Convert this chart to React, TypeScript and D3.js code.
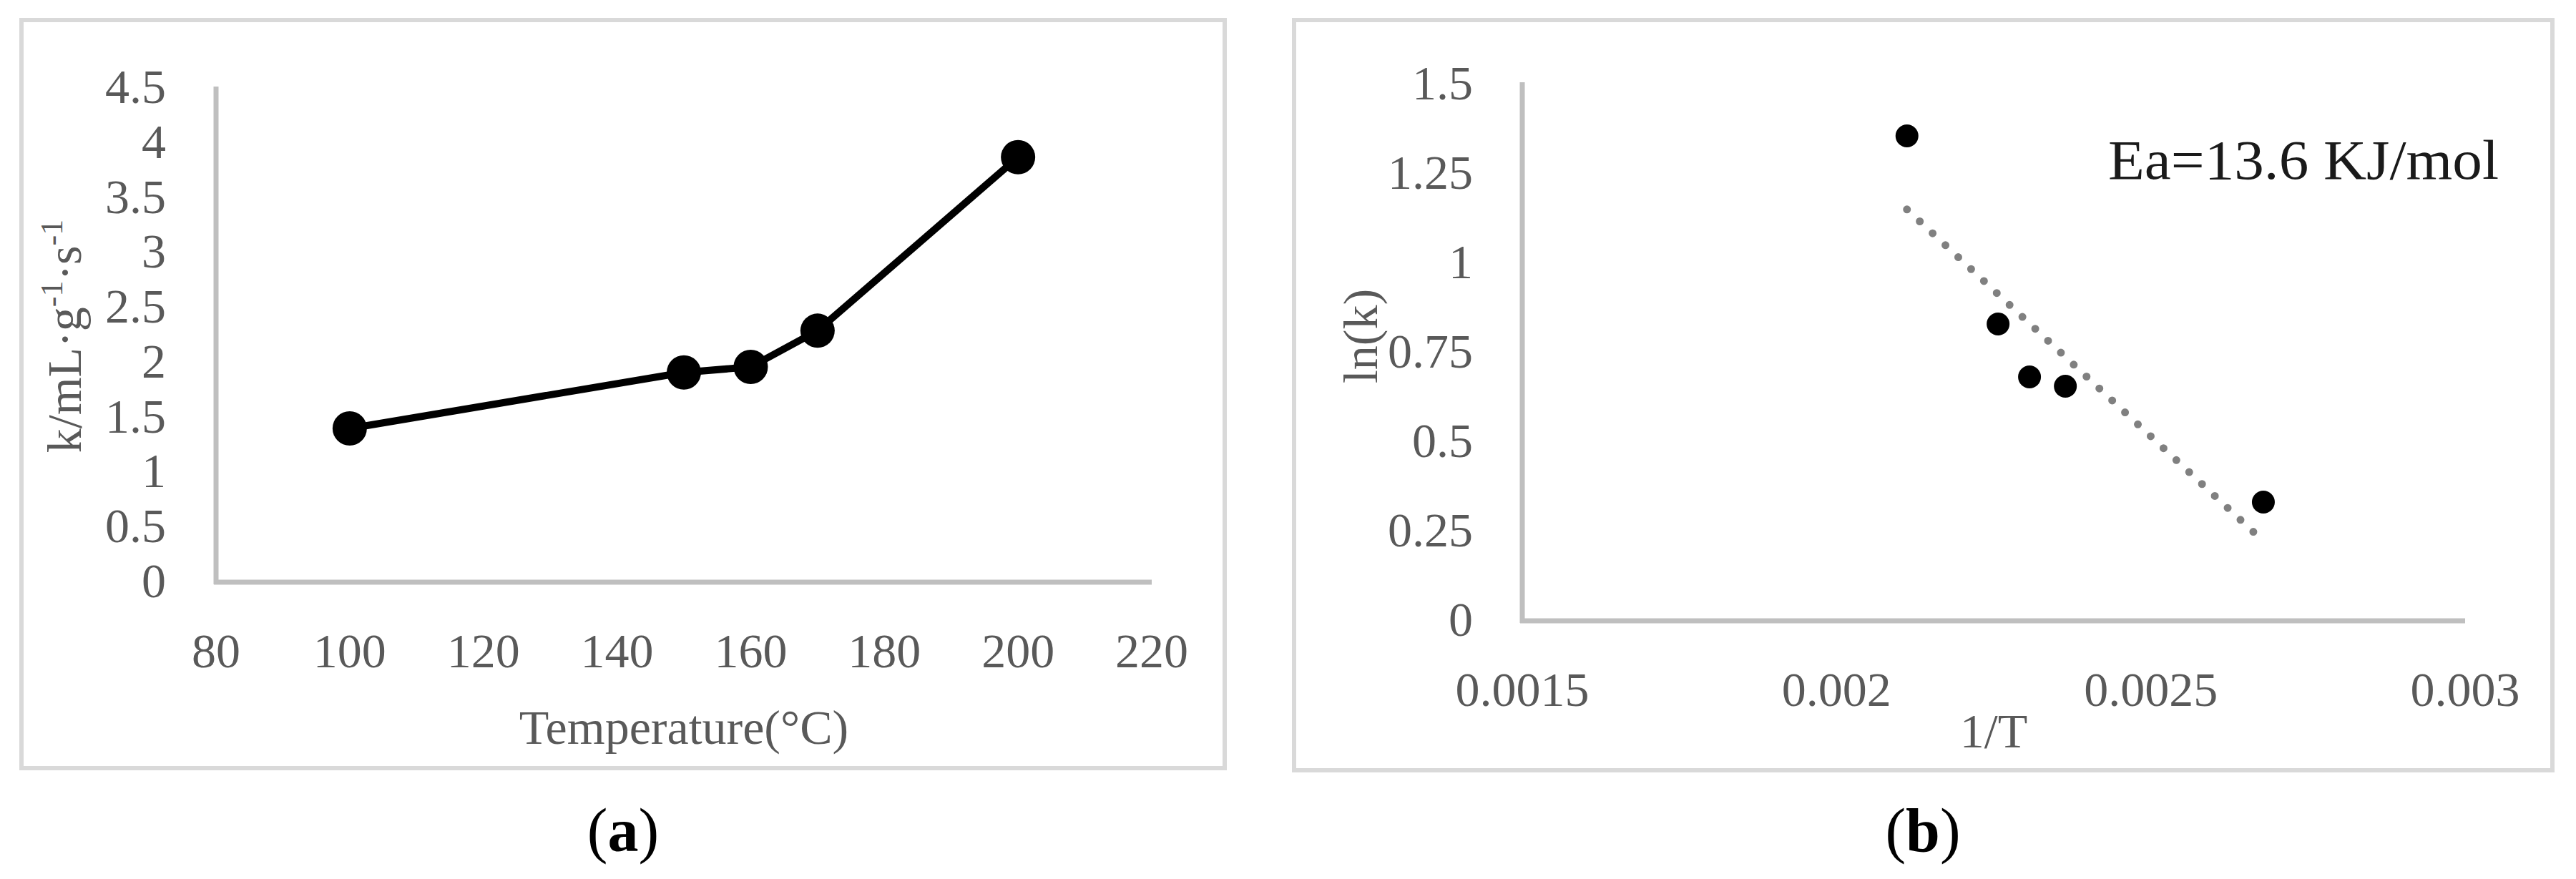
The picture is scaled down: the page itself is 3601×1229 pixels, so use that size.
import React from 'react';
import * as d3 from 'd3';

// panel (a): rate constant vs temperature
const temperature = [100, 150, 160, 170, 200];
const rateK = [1.4, 1.91, 1.96, 2.29, 3.87];
const tempTicks = [80, 100, 120, 140, 160, 180, 200, 220];
const kTicks = [0, 0.5, 1, 1.5, 2, 2.5, 3, 3.5, 4, 4.5];

// panel (b): Arrhenius plot
const invT = [0.002112, 0.002257, 0.002307, 0.002364, 0.002679];
const lnK = [1.356, 0.83, 0.682, 0.656, 0.332];
const invTTicks = [0.0015, 0.002, 0.0025, 0.003];
const lnKTicks = [0, 0.25, 0.5, 0.75, 1, 1.25, 1.5];

const W = 3601;
const H = 1229;
const FONT = '"Liberation Serif", "Times New Roman", serif';
const TXT = '#595959';
const AXIS = '#bfbfbf';
const FRAME = '#d9d9d9';

const xA = d3.scaleLinear().domain([80, 220]).range([302, 1610]);
const yA = d3.scaleLinear().domain([0, 4.5]).range([814, 123]);
const xB = d3.scaleLinear().domain([0.0015, 0.003]).range([2128, 3446]);
const yB = d3.scaleLinear().domain([0, 1.5]).range([868, 118]);

// least-squares trendline through the Arrhenius points
const mx = d3.mean(invT) as number;
const my = d3.mean(lnK) as number;
const slope =
  d3.sum(invT, (x, i) => (x - mx) * (lnK[i] - my)) / d3.sum(invT, (x) => (x - mx) * (x - mx));
const intercept = my - slope * mx;
const trendX = d3.extent(invT) as [number, number];

export default function App() {
  const lineA = d3
    .line<number>()
    .x((t) => xA(t))
    .y((_, i) => yA(rateK[i]));

  const trend = d3
    .line<number>()
    .x((x) => xB(x))
    .y((x) => yB(intercept + slope * x));

  return (
    <svg
      width={W}
      height={H}
      style={{ position: 'absolute', left: 0, top: 0, display: 'block', background: '#fff' }}
      fontFamily={FONT}
    >
      <rect x={0} y={0} width={W} height={H} fill="#fff" />

      {/* ---------- panel (a) ---------- */}
      <rect x={30} y={28} width={1682} height={1046} fill="none" stroke={FRAME} strokeWidth={6} />
      <line x1={302} x2={302} y1={121} y2={817} stroke={AXIS} strokeWidth={7} />
      <line x1={299} x2={1610} y1={814} y2={814} stroke={AXIS} strokeWidth={7} />
      {kTicks.map((v) => (
        <text key={'ka' + v} x={232} y={yA(v) + 21} textAnchor="end" fontSize={68} fill={TXT}>
          {String(v)}
        </text>
      ))}
      {tempTicks.map((v) => (
        <text key={'ta' + v} x={xA(v)} y={933} textAnchor="middle" fontSize={68} fill={TXT}>
          {String(v)}
        </text>
      ))}
      <text x={956} y={1040} textAnchor="middle" fontSize={68} fill={TXT}>
        Temperature(°C)
      </text>
      <text transform="translate(113,470) rotate(-90)" textAnchor="middle" fontSize={68} fill={TXT}>
        k/mL·g
        <tspan fontSize={44} dy={-26}>-1</tspan>
        <tspan dy={26}>·s</tspan>
        <tspan fontSize={44} dy={-26}>-1</tspan>
      </text>
      <path d={lineA(temperature) || ''} fill="none" stroke="#000" strokeWidth={10} strokeLinejoin="round" />
      {temperature.map((t, i) => (
        <circle key={'pa' + t} cx={xA(t)} cy={yA(rateK[i])} r={24} fill="#000" />
      ))}
      <text x={871} y={1190} textAnchor="middle" fontSize={86} fill="#000">
        (<tspan fontWeight="bold">a</tspan>)
      </text>

      {/* ---------- panel (b) ---------- */}
      <rect x={1809} y={28} width={1759} height={1049} fill="none" stroke={FRAME} strokeWidth={6} />
      <line x1={2128} x2={2128} y1={115} y2={871} stroke={AXIS} strokeWidth={7} />
      <line x1={2125} x2={3446} y1={868} y2={868} stroke={AXIS} strokeWidth={7} />
      {lnKTicks.map((v) => (
        <text key={'lb' + v} x={2059} y={yB(v) + 21} textAnchor="end" fontSize={68} fill={TXT}>
          {String(v)}
        </text>
      ))}
      {invTTicks.map((v) => (
        <text key={'ib' + v} x={xB(v)} y={987} textAnchor="middle" fontSize={68} fill={TXT}>
          {String(v)}
        </text>
      ))}
      <text x={2787} y={1045} textAnchor="middle" fontSize={68} fill={TXT}>
        1/T
      </text>
      <text transform="translate(1925,470) rotate(-90)" textAnchor="middle" fontSize={68} fill={TXT}>
        ln(k)
      </text>
      <path
        d={trend(trendX) || ''}
        fill="none"
        stroke="#808080"
        strokeWidth={11}
        strokeLinecap="round"
        strokeDasharray="0 24.5"
      />
      {invT.map((x, i) => (
        <circle key={'pb' + x} cx={xB(x)} cy={yB(lnK[i])} r={16} fill="#000" />
      ))}
      <text x={2947} y={250} fontSize={78} fill="#1a1a1a" textLength={546} lengthAdjust="spacingAndGlyphs">
        Ea=13.6 KJ/mol
      </text>
      <text x={2688} y={1190} textAnchor="middle" fontSize={86} fill="#000">
        (<tspan fontWeight="bold">b</tspan>)
      </text>
    </svg>
  );
}
